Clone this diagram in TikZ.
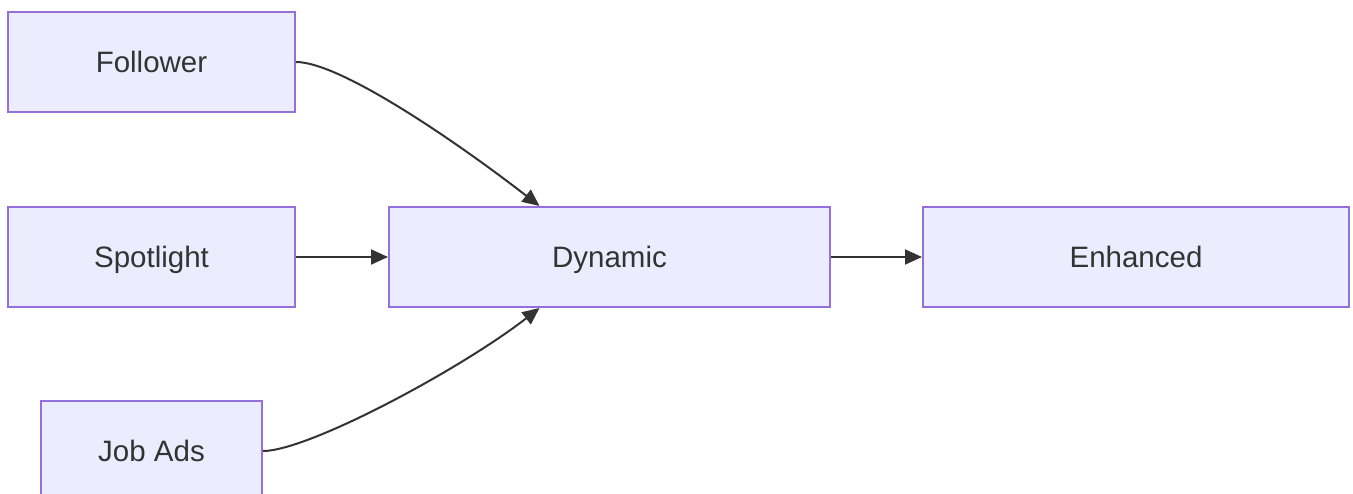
\documentclass[tikz,border=0pt]{standalone}
\usepackage{fontspec}
\setmainfont{Liberation Sans}
\usetikzlibrary{arrows.meta}
\definecolor{boxfill}{HTML}{ECECFF}
\definecolor{boxline}{HTML}{9370DB}
\definecolor{ink}{HTML}{333333}
\begin{document}
\begin{tikzpicture}[x=1pt,y=-1pt,
  box/.style={draw=boxline,fill=boxfill,line width=2pt,inner sep=0pt,
    minimum height=100pt,text=ink,text height=24pt,text depth=3pt,
    font=\fontsize{29.5}{35}\selectfont},
  link/.style={draw=ink,line width=2pt,-{Triangle[length=17pt,width=15pt]}}]
\useasboundingbox (0,0) rectangle (1353,493);
\node[box,minimum width=287pt] (fol) at (151.5,62) {Follower};
\node[box,minimum width=287pt] (spot) at (151.5,257) {Spotlight};
\node[box,minimum width=221pt] (job) at (151.5,451) {Job Ads};
\node[box,minimum width=441pt] (dyn) at (609.5,257) {Dynamic};
\node[box,minimum width=426pt] (enh) at (1136,257) {Enhanced};
\coordinate (dtop) at ([xshift=-70pt]dyn.north);
\coordinate (dbot) at ([xshift=-70pt]dyn.south);
\draw[link] (fol.east) .. controls +(45,0) and +(-80,-62) .. (dtop);
\draw[link] (job.east) .. controls +(45,0) and +(-80,62) .. (dbot);
\draw[link] (spot.east) -- (dyn.west);
\draw[link] (dyn.east) -- (enh.west);
\end{tikzpicture}
\end{document}
